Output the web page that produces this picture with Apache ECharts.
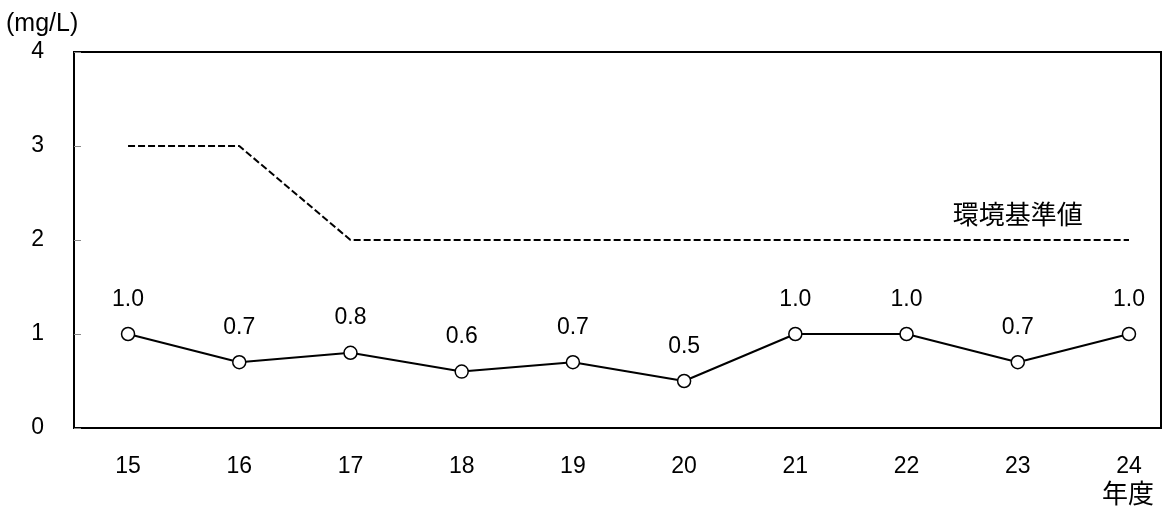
<!DOCTYPE html>
<html>
<head>
<meta charset="utf-8">
<script src="https://cdn.jsdelivr.net/npm/echarts@6/dist/echarts.min.js"></script>
<style>
  html, body { margin: 0; padding: 0; background: #fff; }
  #chart { width: 1163px; height: 513px; }
</style>
</head>
<body>
<div id="chart"></div>
<script>
// Fiscal years (last two digits)
const years = [15, 16, 17, 18, 19, 20, 21, 22, 23, 24];
// Measured concentration (mg/L)
const measured = [1.0, 0.7, 0.8, 0.6, 0.7, 0.5, 1.0, 1.0, 0.7, 1.0];
// Environmental standard value (mg/L)
const standard = [3, 3, 2, 2, 2, 2, 2, 2, 2, 2];
// Y-axis ticks
const yTicks = [0, 1, 2, 3, 4];

const FONT = '"Liberation Sans", "Noto Sans CJK JP", sans-serif';
const FONT_JP = '"Noto Sans CJK JP", sans-serif';

const chart = echarts.init(document.getElementById('chart'), null, { renderer: 'canvas' });

// Standard line points; the name label sits above the 23 point
const standardData = years.map((y, i) => {
  const d = { value: [y, standard[i]] };
  if (y === 23) {
    d.label = {
      show: true, position: 'top', distance: 12,
      formatter: '環境基準値',
      color: '#000', fontSize: 26, fontFamily: FONT_JP
    };
  }
  return d;
});

chart.setOption({
  animation: false,
  backgroundColor: '#fff',
  grid: {
    left: 74, right: 2, top: 52, bottom: 85,
    show: true, borderColor: '#000', borderWidth: 2, backgroundColor: 'transparent'
  },
  xAxis: {
    type: 'value',
    min: 14.514, max: 24.288,
    axisLine: { show: false },
    axisTick: { show: false },
    splitLine: { show: false },
    axisLabel: {
      customValues: years,
      margin: 27,
      color: '#000', fontSize: 23, fontFamily: FONT
    }
  },
  yAxis: {
    type: 'value',
    min: yTicks[0], max: yTicks[yTicks.length - 1], interval: 1,
    axisLine: { show: false },
    axisTick: { show: true, inside: true, length: 7, lineStyle: { color: '#888', width: 1 } },
    splitLine: { show: false },
    axisLabel: { margin: 30, padding: [3, 0, 0, 0], color: '#000', fontSize: 23, fontFamily: FONT }
  },
  graphic: [
    { type: 'text', left: 6, top: 12, style: { text: '(mg/L)', fill: '#000', font: '25px ' + FONT } },
    { type: 'text', left: 1102, top: 480, style: { text: '年度', fill: '#000', font: '26px ' + FONT_JP } }
  ],
  series: [
    {
      type: 'line',
      data: standardData,
      symbol: 'circle',
      symbolSize: 1,
      showSymbol: true,
      itemStyle: { color: 'rgba(0,0,0,0)', borderWidth: 0 },
      lineStyle: { color: '#000', width: 2, type: [7, 3] },
      z: 2
    },
    {
      type: 'line',
      data: years.map((y, i) => [y, measured[i]]),
      symbol: 'circle',
      symbolSize: 13,
      itemStyle: { color: '#fff', borderColor: '#000', borderWidth: 1.5 },
      lineStyle: { color: '#000', width: 2 },
      label: {
        show: true, position: 'top', distance: 16,
        formatter: p => p.value[1].toFixed(1),
        color: '#000', fontSize: 23, fontFamily: FONT
      },
      z: 3
    }
  ]
});
</script>
</body>
</html>
